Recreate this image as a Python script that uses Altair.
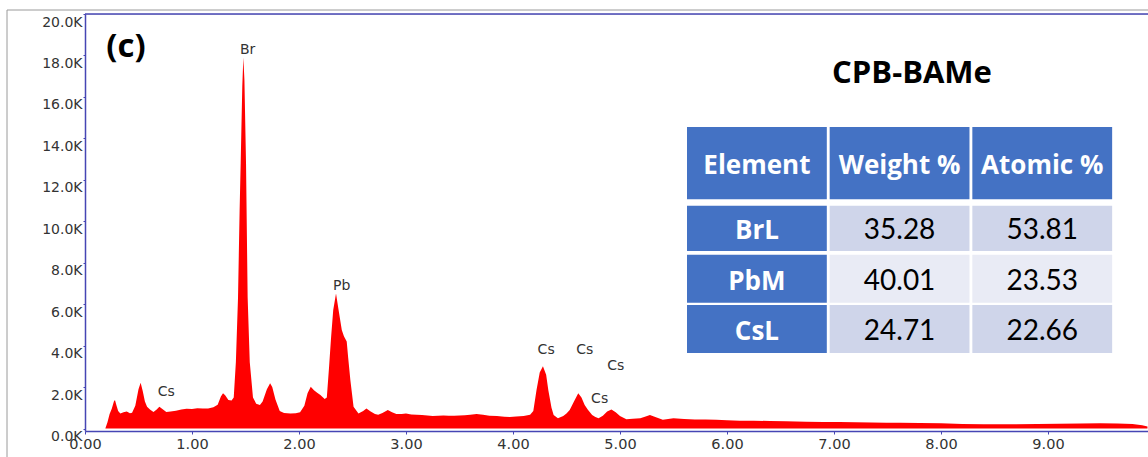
import altair as alt
import pandas as pd

# ---- spectrum (energy in keV, counts in thousands) ----
energy = [0.19, 0.21, 0.23, 0.25, 0.27, 0.28, 0.295, 0.31, 0.33, 0.36, 0.39, 0.42, 0.44,
          0.47, 0.50, 0.52, 0.54, 0.56, 0.58, 0.61, 0.64, 0.67, 0.695, 0.72, 0.76, 0.80,
          0.85, 0.90, 0.95, 1.00, 1.05, 1.10, 1.15, 1.20, 1.24, 1.27, 1.29, 1.31, 1.34,
          1.37, 1.39, 1.41, 1.43, 1.445, 1.455, 1.47, 1.48, 1.49, 1.505, 1.52, 1.54, 1.57,
          1.60, 1.635, 1.66, 1.70, 1.73, 1.75, 1.78, 1.82, 1.86, 1.92, 1.97, 2.01, 2.05,
          2.08, 2.11, 2.14, 2.17, 2.20, 2.24, 2.26, 2.28, 2.30, 2.32, 2.346, 2.37, 2.40,
          2.42, 2.446, 2.46, 2.48, 2.51, 2.556, 2.60, 2.63, 2.67, 2.71, 2.74, 2.78, 2.83,
          2.87, 2.91, 2.96, 3.00, 3.05, 3.10, 3.15, 3.20, 3.25, 3.30, 3.35, 3.40, 3.45,
          3.50, 3.55, 3.60, 3.66, 3.72, 3.78, 3.85, 3.92, 3.97, 4.03, 4.10, 4.16, 4.19,
          4.22, 4.25, 4.28, 4.31, 4.33, 4.36, 4.38, 4.42, 4.47, 4.50, 4.53, 4.57, 4.61,
          4.64, 4.67, 4.70, 4.74, 4.77, 4.80, 4.84, 4.88, 4.92, 4.96, 5.00, 5.06, 5.12,
          5.19, 5.24, 5.28, 5.33, 5.40, 5.50, 5.60, 5.70, 5.80, 5.90, 6.00, 6.12, 6.25,
          6.40, 6.55, 6.74, 6.90, 7.05, 7.20, 7.35, 7.49, 7.62, 7.80, 8.00, 8.20, 8.40,
          8.55, 8.70, 8.90, 9.10, 9.30, 9.49, 9.65, 9.79, 9.88, 9.93]
kcounts = [0.0, 0.3, 0.7, 0.95, 1.3, 1.37, 1.1, 0.85, 0.72, 0.78, 0.82, 0.74, 0.76,
           1.1, 1.9, 2.21, 1.8, 1.3, 1.05, 0.9, 0.8, 0.92, 1.05, 0.95, 0.8, 0.82,
           0.86, 0.92, 0.95, 0.94, 0.98, 0.97, 0.96, 1.02, 1.15, 1.55, 1.70, 1.6, 1.37,
           1.35, 1.5, 3.2, 6.3, 10.5, 12.8, 16.5, 17.9, 16.8, 12.8, 6.35, 3.2, 1.5,
           1.2, 1.13, 1.3, 1.9, 2.18, 2.0, 1.4, 0.85, 0.75, 0.73, 0.74, 0.78, 1.1,
           1.7, 2.02, 1.85, 1.72, 1.62, 1.42, 1.5, 2.9, 4.4, 5.72, 6.52, 5.72, 4.75,
           4.45, 4.2, 3.4, 2.34, 1.05, 0.73, 0.85, 0.97, 0.82, 0.7, 0.66, 0.75, 0.89,
           0.78, 0.70, 0.70, 0.72, 0.68, 0.66, 0.65, 0.63, 0.60, 0.62, 0.63, 0.61, 0.62,
           0.63, 0.64, 0.67, 0.70, 0.67, 0.62, 0.60, 0.57, 0.55, 0.58, 0.60, 0.66, 0.85,
           1.86, 2.7, 3.01, 2.6, 1.86, 1.0, 0.65, 0.50, 0.6, 0.72, 0.89, 1.3, 1.70,
           1.5, 1.13, 0.9, 0.65, 0.55, 0.50, 0.62, 0.82, 0.92, 0.78, 0.60, 0.45, 0.47,
           0.50, 0.58, 0.65, 0.56, 0.42, 0.49, 0.46, 0.44, 0.43, 0.42, 0.40, 0.38, 0.38,
           0.36, 0.35, 0.33, 0.32, 0.31, 0.30, 0.29, 0.28, 0.28, 0.26, 0.25, 0.22, 0.21,
           0.20, 0.21, 0.22, 0.23, 0.24, 0.25, 0.24, 0.22, 0.16, 0.10]

# ---- peak labels ----
peak_labels = ["Cs", "Br", "Pb", "Cs", "Cs", "Cs", "Cs"]
label_energy = [0.76, 1.52, 2.40, 4.31, 4.67, 4.96, 4.81]
label_kcounts = [1.75, 18.26, 6.87, 3.79, 3.79, 3.01, 1.42]

# ---- table ----
table_header = ["Element", "Weight %", "Atomic %"]
elements = ["BrL", "PbM", "CsL"]
weight_pct = ["35.28", "40.01", "24.71"]
atomic_pct = ["53.81", "23.53", "22.66"]
row_top = [0.0, 1.66, 2.69, 3.75]
row_bottom = [1.52, 2.61, 3.70, 4.76]

W, H = 1063, 417
XMAX = 9.935
AXIS_BLUE = "#4646b4"
TICK_FONT = "DejaVu Sans"
TABLE_FONT = "Lato"
HEAD_FONT = "Open Sans"

spec = pd.DataFrame({"E": energy, "K": kcounts})
labels = pd.DataFrame({"E": label_energy, "K": label_kcounts, "t": peak_labels})

xs = alt.Scale(domain=[0, XMAX], nice=False, zero=False)
ys = alt.Scale(domain=[-0.12, 20], nice=False, zero=False)

x_axis = alt.Axis(values=list(range(0, 10)), format=".2f", title=None,
                  grid=False, domainColor=AXIS_BLUE, domainWidth=1.5,
                  tickColor=AXIS_BLUE, tickSize=3, labelPadding=3, labelFlush=False,
                  labelFont=TICK_FONT, labelFontSize=14.5, labelColor="#333333")
y_axis = alt.Axis(values=list(range(0, 21, 2)),
                  labelExpr="format(datum.value, '.1f') + 'K'", title=None,
                  grid=False, domainColor=AXIS_BLUE, domainWidth=1.5,
                  tickColor=AXIS_BLUE, tickSize=2, labelPadding=1, labelOffset=8,
                  labelFlush=False,
                  labelFont=TICK_FONT, labelFontSize=14, labelColor="#333333")

area = alt.Chart(spec).mark_area(color="#ff0000", interpolate="linear").encode(
    x=alt.X("E:Q", scale=xs, axis=x_axis),
    y=alt.Y("K:Q", scale=ys, axis=y_axis),
)

peak_text = alt.Chart(labels).mark_text(font=TICK_FONT, fontSize=14, color="#333333",
                                        baseline="middle").encode(
    x=alt.X("E:Q", scale=xs, axis=x_axis),
    y=alt.Y("K:Q", scale=ys, axis=y_axis),
    text="t:N",
)

top_rule = alt.Chart(pd.DataFrame({"a": [0]})).mark_rule(color=AXIS_BLUE, strokeWidth=1.5).encode(
    x=alt.value(0), x2=alt.value(W), y=alt.value(0))
frame_top = alt.Chart(pd.DataFrame({"a": [0]})).mark_rule(color="#9a9a9a", strokeWidth=1).encode(
    x=alt.value(-78), x2=alt.value(W), y=alt.value(-4))
frame_left = alt.Chart(pd.DataFrame({"a": [0]})).mark_rule(color="#9a9a9a", strokeWidth=1).encode(
    x=alt.value(-78), y=alt.value(-4), y2=alt.value(H + 30))

panel_tag = alt.Chart(pd.DataFrame({"t": ["(c)"]})).mark_text(
    font=HEAD_FONT, fontSize=33, fontWeight="bold", color="#000000", baseline="middle"
).encode(x=alt.value(41), y=alt.value(33), text="t:N")
sample_title = alt.Chart(pd.DataFrame({"t": ["CPB-BAMe"]})).mark_text(
    font=HEAD_FONT, fontSize=31, fontWeight="bold", color="#000000", baseline="middle"
).encode(x=alt.value(827), y=alt.value(60), text="t:N")

plot = alt.layer(area, peak_text)

# table cells
cells = []
for c, h in enumerate(table_header):
    cells.append(dict(c=c, r=0, t=h, fill="#4472C4", kind="head"))
for r in range(3):
    shade = "#CFD5EA" if r % 2 == 0 else "#E9EBF5"
    cells.append(dict(c=0, r=r + 1, t=elements[r], fill="#4472C4", kind="elem"))
    cells.append(dict(c=1, r=r + 1, t=weight_pct[r], fill=shade, kind="num"))
    cells.append(dict(c=2, r=r + 1, t=atomic_pct[r], fill=shade, kind="num"))
cdf = pd.DataFrame(cells)
cdf["c0"] = cdf["c"]
cdf["c1"] = cdf["c"] + 0.98
cdf["cm"] = cdf["c"] + 0.49
cdf["r0"] = [row_top[r] for r in cdf["r"]]
cdf["r1"] = [row_bottom[r] for r in cdf["r"]]
cdf["rm"] = (cdf["r0"] + cdf["r1"]) / 2 + 0.06

tx = alt.Scale(domain=[0, 3], range=[602, 1030])
ty = alt.Scale(domain=[0, 4.76], range=[113, 339])

tbase = alt.Chart(cdf)
rects = tbase.mark_rect().encode(
    x=alt.X("c0:Q", scale=tx, axis=None), x2="c1:Q",
    y=alt.Y("r0:Q", scale=ty, axis=None), y2="r1:Q",
    fill=alt.Fill("fill:N", scale=None),
)
head_txt = tbase.transform_filter("datum.kind != 'num'").mark_text(
    font=HEAD_FONT, fontSize=26, fontWeight="bold", color="white", baseline="middle"
).encode(x=alt.X("cm:Q", scale=tx, axis=None), y=alt.Y("rm:Q", scale=ty, axis=None), text="t:N")
num_txt = tbase.transform_filter("datum.kind == 'num'").mark_text(
    font=TABLE_FONT, fontSize=28, color="#000000", baseline="middle"
).encode(x=alt.X("cm:Q", scale=tx, axis=None), y=alt.Y("rm:Q", scale=ty, axis=None), text="t:N")

table = alt.layer(rects, head_txt, num_txt)

chart = alt.layer(
    plot, frame_top, frame_left, table, top_rule, panel_tag, sample_title
).resolve_scale(x="independent", y="independent").properties(
    width=W, height=H,
    autosize=alt.AutoSizeParams(type="none"),
    padding={"left": 85, "top": 14, "right": 0, "bottom": 26},
).configure_view(stroke=None).configure(background="white")

chart.save("out.html", embed_options={"renderer": "svg", "actions": False})
